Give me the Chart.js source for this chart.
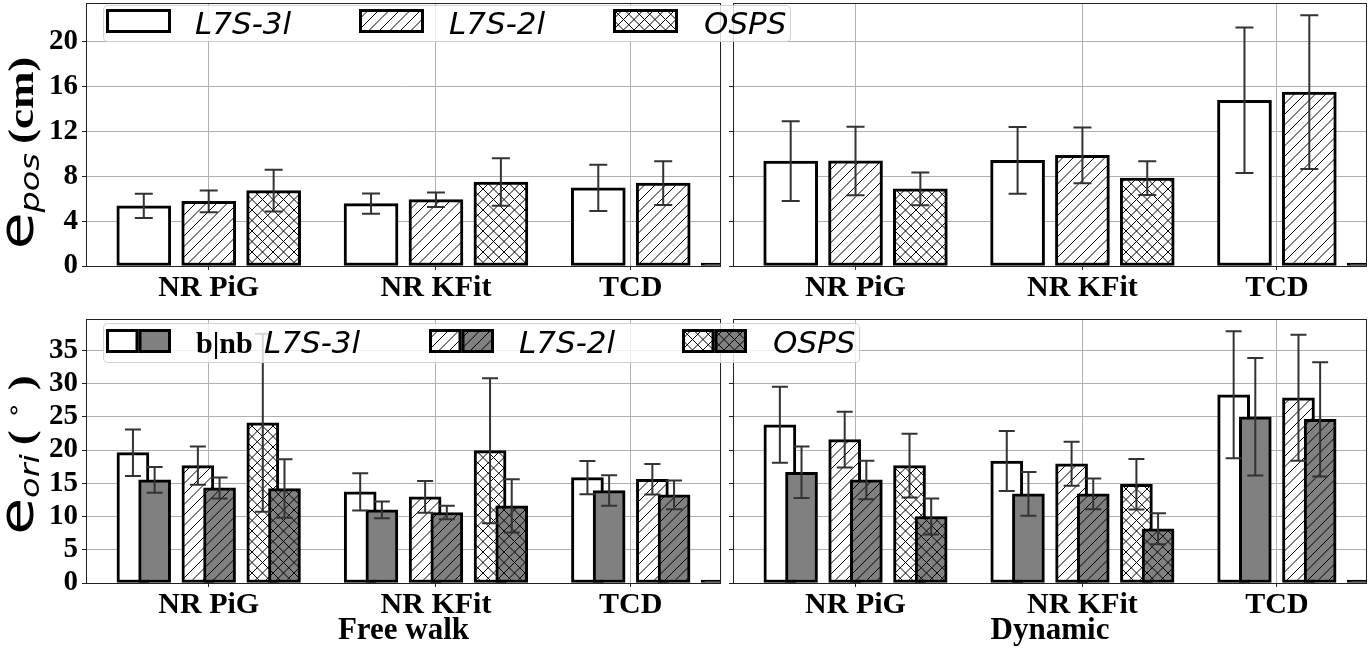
<!DOCTYPE html>
<html lang="en">
<head>
  <meta charset="UTF-8">
  <title>Pose / orientation error per method</title>
  <script src="https://cdn.jsdelivr.net/npm/chart.js"></script>
  <style>
    body {
      margin: 0;
      width: 1370px;
      height: 650px;
      position: relative;
      overflow: hidden;
      background: #fff;
    }
    canvas.panel { position: absolute; }
    .legend {
      position: absolute;
      background: rgba(255, 255, 255, 0.8);
      border: 1px solid rgba(200, 200, 200, 0.8);
      border-radius: 5px;
      box-sizing: border-box;
    }
    .legend canvas, .legend span { position: absolute; }
    .legend span {
      top: 0;
      white-space: nowrap;
      font-family: 'DejaVu Sans';
      font-style: italic;
      font-size: 31px;
    }
    .legend span.bnb { font-family: 'Liberation Serif'; font-style: normal; font-weight: bold; font-size: 30px; }
    .ytitle {
      position: absolute;
      transform: translate(-50%, -50%) rotate(-90deg) scale(1, 0.8);
      white-space: nowrap;
      line-height: 1;
    }
    .ytitle .m { font-family: 'DejaVu Sans'; font-size: 60px; }
    .ytitle sub { font-style: italic; font-size: 0.56em; vertical-align: -0.2em; }
    .ytitle .u { font-family: 'Liberation Serif'; font-weight: bold; font-size: 45px; }
    .ytitle .deg { font-family: 'DejaVu Sans'; font-weight: normal; font-size: 28px; vertical-align: 0.55em; }
  </style>
</head>
<body>
  <canvas class="panel" id="posFree" width="725" height="300" style="left:0;top:0"></canvas>
  <canvas class="panel" id="posDyn" width="643" height="300" style="left:727px;top:0"></canvas>
  <canvas class="panel" id="oriFree" width="725" height="350" style="left:0;top:300px"></canvas>
  <canvas class="panel" id="oriDyn" width="643" height="350" style="left:727px;top:300px"></canvas>

  <div class="ytitle" style="left:18px;top:153px"><span class="m">e<sub>pos</sub></span><span class="u">&thinsp;(cm)</span></div>
  <div class="ytitle" style="left:18px;top:455px"><span class="m">e<sub>ori</sub></span><span class="u">&thinsp;(&nbsp;<span class="deg">&#8728;</span>&nbsp;)</span></div>

  <div class="legend" id="legTop" style="left:103px;top:5px;width:688px;height:37px"></div>
  <div class="legend" id="legBot" style="left:103px;top:323px;width:757px;height:40px"></div>

  <script>
    // categories and series
    const groupNames = ['NR PiG', 'NR KFit', 'TCD'];
    const groupTickPos = [0, 3.5, 6.5];   // where the category labels sit
    const groupBarPos = [0, 3.5, 7];      // where the middle bar of each group sits
    const methodNames = ['L7S-3l', 'L7S-2l', 'OSPS'];
    const methodOffset = [-1, 0, 1];
    const posTicks = [0, 4, 8, 12, 16, 20];
    const oriTicks = [0, 5, 10, 15, 20, 25, 30, 35];
    const posMax = 23.4;
    const oriMax = 39.7;
    const colTitles = ['Free walk', 'Dynamic'];

    // e_pos (cm), one row per method, one column per group
    const posFreeMean = [[5.35, 5.55, 6.95], [5.75, 5.9, 7.38], [6.7, 7.47, 0]];
    const posFreeErr  = [[1.07, 0.9, 2.05], [0.96, 0.65, 1.95], [1.86, 2.12, 0]];
    const posDynMean  = [[9.33, 9.4, 14.75], [9.35, 9.85, 15.47], [6.86, 7.82, 0]];
    const posDynErr   = [[3.55, 2.97, 6.48], [3.05, 2.48, 6.84], [1.45, 1.5, 0]];

    // e_ori (deg), b = first bar of each pair, nb = grey bar
    const oriFreeB    = [[19.6, 13.7, 15.85], [17.65, 12.95, 15.6], [24.1, 19.9, 0]];
    const oriFreeBErr = [[3.5, 2.8, 2.5], [2.86, 2.4, 2.3], [13.4, 10.9, 0]];
    const oriFreeNb    = [[15.5, 11.0, 13.9], [14.3, 10.6, 13.25], [14.2, 11.6, 0]];
    const oriFreeNbErr = [[1.93, 1.25, 2.3], [1.58, 1.0, 2.15], [4.4, 4.0, 0]];
    const oriDynB    = [[23.8, 18.35, 28.3], [21.55, 17.93, 27.85], [17.65, 14.84, 0]];
    const oriDynBErr = [[5.72, 4.5, 9.55], [4.2, 3.3, 9.47], [4.8, 3.8, 0]];
    const oriDynNb    = [[16.65, 13.4, 25.0], [15.5, 13.4, 24.6], [10.0, 8.15, 0]];
    const oriDynNbErr = [[3.87, 3.28, 8.85], [2.9, 2.3, 8.6], [2.7, 2.33, 0]];

    const GREY = '#808080';
    const hatchKinds = ['', '/', 'x'];

    // hatch fills like matplotlib's '', '//' and 'xx'
    function hatch(bg, kind) {
      const t = 21;
      const c = document.createElement('canvas');
      c.width = c.height = t;
      const g = c.getContext('2d');
      g.fillStyle = bg;
      g.fillRect(0, 0, t, t);
      if (kind) {
        g.strokeStyle = '#000';
        g.lineWidth = 1;
        g.beginPath();
        for (let k = 0; k <= 4; k++) {
          const s = k * 10.5;
          g.moveTo(s + 1, -1);
          g.lineTo(s - t - 1, t + 1);
        }
        if (kind === 'x') {
          for (let k = -2; k <= 2; k++) {
            const s = k * 10.5;
            g.moveTo(s - 1, -1);
            g.lineTo(s + t + 1, t + 1);
          }
        }
        g.stroke();
      }
      return g.createPattern(c, 'repeat');
    }

    const errorBars = {
      id: 'errorBars',
      afterDatasetsDraw(chart) {
        const ctx = chart.ctx;
        const y = chart.scales.y;
        const cap = chart.options.plugins.errorBars.cap;
        ctx.save();
        ctx.strokeStyle = '#333';
        ctx.lineWidth = 2;
        chart.data.datasets.forEach((ds, i) => {
          chart.getDatasetMeta(i).data.forEach((bar, j) => {
            const e = ds.errors[j];
            if (!e) return;
            const v = ds.data[j].y;
            const top = y.getPixelForValue(v + e);
            const bot = y.getPixelForValue(v - e);
            ctx.beginPath();
            ctx.moveTo(bar.x, top); ctx.lineTo(bar.x, bot);
            ctx.moveTo(bar.x - cap, top); ctx.lineTo(bar.x + cap, top);
            ctx.moveTo(bar.x - cap, bot); ctx.lineTo(bar.x + cap, bot);
            ctx.stroke();
          });
        });
        ctx.restore();
      }
    };

    const frame = {
      id: 'frame',
      afterDraw(chart) {
        const a = chart.chartArea;
        const ctx = chart.ctx;
        ctx.save();
        ctx.strokeStyle = '#222';
        ctx.lineWidth = 1;
        ctx.strokeRect(a.left + 0.5, a.top + 0.5, a.right - a.left - 1, a.bottom - a.top);
        ctx.restore();
      }
    };

    const tickFont = { family: 'Liberation Serif', weight: 'bold', size: 29 };

    function makePanel(id, datasets, o) {
      new Chart(document.getElementById(id), {
        type: 'bar',
        data: { datasets },
        options: {
          responsive: false,
          animation: false,
          events: [],
          layout: { padding: { top: o.padTop, right: o.padRight, left: 0, bottom: 0 } },
          plugins: {
            legend: { display: false },
            tooltip: { enabled: false },
            errorBars: { cap: o.cap }
          },
          scales: {
            x: {
              type: 'linear',
              min: -1.89,
              max: 7.89,
              offset: false,
              afterBuildTicks: s => { s.ticks = groupTickPos.map(v => ({ value: v })); },
              afterFit: s => { s.height = o.xHeight; s.paddingLeft = 0; s.paddingRight = 0; },
              ticks: {
                callback: (v, i) => groupNames[i],
                font: { family: 'Liberation Serif', weight: 'bold', size: 30 },
                color: '#000',
                padding: 0,
                maxRotation: 0,
                autoSkip: false
              },
              grid: { offset: false, color: '#b0b0b0', lineWidth: 1, tickColor: '#222', tickLength: 4 },
              border: { display: false },
              title: {
                display: !!o.title,
                text: o.title || '',
                font: { family: 'Liberation Serif', weight: 'bold', size: 31 },
                color: '#000',
                padding: { top: 0, bottom: 0 }
              }
            },
            y: {
              min: 0,
              max: o.yMax,
              afterBuildTicks: s => { s.ticks = o.yTicks.map(v => ({ value: v })); },
              afterFit: s => { s.width = o.yWidth; s.paddingTop = 0; s.paddingBottom = 0; },
              ticks: { display: o.yLabels, font: tickFont, color: '#000', padding: 4, autoSkip: false },
              grid: { color: '#b0b0b0', lineWidth: 1, tickColor: '#222', tickLength: 4 },
              border: { display: false }
            }
          }
        },
        plugins: [errorBars, frame]
      });
    }

    const barCommon = {
      borderColor: '#000',
      borderWidth: 3,
      borderSkipped: false,
      grouped: false,
      minBarLength: 3,
      clip: { left: 0, top: 0, right: 0, bottom: 4 }
    };

    // zero-height bars show up as a plain black stroke, as in matplotlib
    function fillFor(pattern) {
      return c => (c.raw && c.raw.y === 0 ? '#000' : pattern);
    }

    function posSets(means, errs) {
      return methodNames.map((name, m) => Object.assign({
        label: name,
        data: groupBarPos.map((g, i) => ({ x: g + methodOffset[m], y: means[m][i] })),
        errors: errs[m],
        backgroundColor: fillFor(hatch('#fff', hatchKinds[m])),
        barThickness: 54
      }, barCommon));
    }

    function oriSets(bMeans, bErrs, nbMeans, nbErrs) {
      const out = [];
      methodNames.forEach((name, m) => {
        out.push(Object.assign({
          label: 'b ' + name,
          data: groupBarPos.map((g, i) => ({ x: g + methodOffset[m] - 0.167, y: bMeans[m][i] })),
          errors: bErrs[m],
          backgroundColor: fillFor(hatch('#fff', hatchKinds[m])),
          barThickness: 32,
          order: 1
        }, barCommon));
        out.push(Object.assign({
          label: 'nb ' + name,
          data: groupBarPos.map((g, i) => ({ x: g + methodOffset[m] + 0.167, y: nbMeans[m][i] })),
          errors: nbErrs[m],
          backgroundColor: fillFor(hatch(GREY, hatchKinds[m])),
          barThickness: 32,
          order: 0
        }, barCommon));
      });
      return out;
    }

    const topOpts = { padTop: 3, xHeight: 34, yMax: posMax, yTicks: posTicks, cap: 9 };
    const botOpts = { padTop: 19, xHeight: 67, yMax: oriMax, yTicks: oriTicks, cap: 8 };
    const leftOpts = { padRight: 4, yWidth: 86, yLabels: true };
    const rightOpts = { padRight: 3, yWidth: 6, yLabels: false };

    makePanel('posFree', posSets(posFreeMean, posFreeErr), Object.assign({}, topOpts, leftOpts));
    makePanel('posDyn', posSets(posDynMean, posDynErr), Object.assign({}, topOpts, rightOpts));
    makePanel('oriFree', oriSets(oriFreeB, oriFreeBErr, oriFreeNb, oriFreeNbErr),
      Object.assign({ title: colTitles[0] }, botOpts, leftOpts));
    makePanel('oriDyn', oriSets(oriDynB, oriDynBErr, oriDynNb, oriDynNbErr),
      Object.assign({ title: colTitles[1] }, botOpts, rightOpts));

    // legends (html, laid over both panels like the original)
    function swatch(parent, left, top, fills) {
      const w = 65, h = 24;
      const c = document.createElement('canvas');
      c.width = w; c.height = h;
      c.style.left = left + 'px';
      c.style.top = top + 'px';
      const g = c.getContext('2d');
      const part = w / fills.length;
      fills.forEach((f, k) => {
        g.fillStyle = f;
        g.fillRect(k * part, 0, part, h);
      });
      g.strokeStyle = '#000';
      g.lineWidth = 3;
      fills.forEach((f, k) => g.strokeRect(k * part + 1.5, 1.5, part - 3, h - 3));
      parent.appendChild(c);
    }
    function label(parent, left, h, text, cls) {
      const s = document.createElement('span');
      s.textContent = text;
      s.style.left = left + 'px';
      s.style.lineHeight = h + 'px';
      if (cls) s.className = cls;
      parent.appendChild(s);
    }

    const legTop = document.getElementById('legTop');
    [[2, 91], [255, 345], [509, 600]].forEach(([sx, tx], m) => {
      swatch(legTop, sx, 3, [hatch('#fff', hatchKinds[m])]);
      label(legTop, tx, 34, methodNames[m]);
    });

    const legBot = document.getElementById('legBot');
    [[2, 160], [325, 415], [578, 669]].forEach(([sx, tx], m) => {
      swatch(legBot, sx, 5, [hatch('#fff', hatchKinds[m]), hatch(GREY, hatchKinds[m])]);
      label(legBot, tx, 37, methodNames[m]);
    });
    label(legBot, 92, 37, 'b|nb', 'bnb');
  </script>
</body>
</html>
